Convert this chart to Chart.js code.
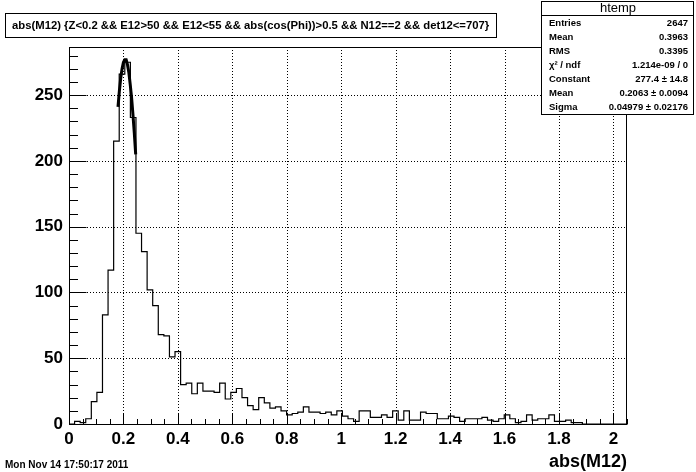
<!DOCTYPE html>
<html>
<head>
    <title>abs(M12)</title>
    <script src="https://cdn.jsdelivr.net/npm/chart.js"></script>
    <style>
        body {
            margin: 0;
            background: #fff;
        }
        #wrap {
            width: 696px;
            height: 472px;
        }
    </style>
</head>
<body>
<div id="wrap"><canvas id="histChart" width="696" height="472"></canvas></div>
<script>
    // histogram: 100 bins from 0 to 2.05
    const xMin = 0;
    const xMax = 2.05;
    const binWidth = 0.0205;
    const yMax = 286.6;
    const counts = [
        0, 2, 1, 4, 17, 24, 83, 117, 215, 266,
        275, 233, 145, 131, 102, 90, 68, 67, 51, 55,
        30, 31, 23, 31, 25, 25, 24, 31, 19, 24,
        27, 20, 14, 11, 20, 16, 12, 13, 10, 7,
        8, 9, 13, 9, 9, 8, 9, 7, 10, 6,
        4, 2, 10, 10, 5, 5, 7, 5, 10, 3,
        10, 3, 3, 9, 8, 8, 4, 4, 6, 5,
        2, 4, 4, 4, 5, 3, 2, 4, 7, 4,
        1, 2, 7, 3, 4, 4, 7, 2, 2, 3,
        1, 1, 0, 0, 0, 0, 0, 0, 0, 0
    ];

    // gaussian fit curve
    const fitX = [0.180, 0.185, 0.190, 0.195, 0.200, 0.205, 0.210, 0.215, 0.220, 0.225, 0.230, 0.235, 0.240, 0.245];
    const fitY = [241, 253, 263, 270, 275, 277, 277, 273, 267, 258, 248, 235, 221, 205];

    const xTicks = [0, 0.2, 0.4, 0.6, 0.8, 1, 1.2, 1.4, 1.6, 1.8, 2];
    const xTickLabels = ['0', '0.2', '0.4', '0.6', '0.8', '1', '1.2', '1.4', '1.6', '1.8', '2'];
    const yTicks = [0, 50, 100, 150, 200, 250];
    const yTickLabels = ['0', '50', '100', '150', '200', '250'];

    const titleText = 'abs(M12) {Z<0.2 && E12>50 && E12<55 && abs(cos(Phi))>0.5 && N12==2 && det12<=707}';
    const xTitle = 'abs(M12)';
    const dateText = 'Mon Nov 14 17:50:17 2011';
    const statName = 'htemp';
    const statLabels = ['Entries', 'Mean', 'RMS', 'χ² / ndf', 'Constant', 'Mean', 'Sigma'];
    const statValues = ['2647', '0.3963', '0.3395', '1.214e-09 / 0', '277.4 ± 14.8', '0.2063 ± 0.0094', '0.04979 ± 0.02176'];

    const FONT = "'Liberation Sans', Arial, Helvetica, sans-serif";

    const histPoints = counts.map((c, i) => ({ x: xMin + i * binWidth, y: c }));
    histPoints.push({ x: xMax, y: 0 });
    const fitPoints = fitX.map((x, i) => ({ x: x, y: fitY[i] }));

    // ROOT style frame, dotted grid, inward ticks and text boxes
    const rootFrame = {
        id: 'rootFrame',
        beforeDatasetsDraw(chart) {
            const ctx = chart.ctx;
            const a = chart.chartArea;
            const xs = chart.scales.x, ys = chart.scales.y;
            ctx.save();
            ctx.strokeStyle = '#000';
            ctx.lineWidth = 1;
            ctx.setLineDash([1, 2]);
            xTicks.forEach(v => {
                if (v === xMin) return;
                const px = Math.round(xs.getPixelForValue(v)) + 0.5;
                ctx.beginPath();
                ctx.moveTo(px, a.top);
                ctx.lineTo(px, a.bottom);
                ctx.stroke();
            });
            yTicks.forEach(v => {
                if (v === 0) return;
                const py = Math.round(ys.getPixelForValue(v)) + 0.5;
                ctx.beginPath();
                ctx.moveTo(a.left, py);
                ctx.lineTo(a.right, py);
                ctx.stroke();
            });
            ctx.restore();
        },
        afterDatasetsDraw(chart) {
            const ctx = chart.ctx;
            const a = chart.chartArea;
            const xs = chart.scales.x, ys = chart.scales.y;
            ctx.save();
            ctx.strokeStyle = '#000';
            ctx.lineWidth = 1;
            ctx.strokeRect(a.left + 0.5, a.top + 0.5, a.right - a.left - 1, a.bottom - a.top);
            ctx.beginPath();
            const left = a.left + 0.5;
            for (let v = 0; v <= yMax; v += 10) {
                const py = Math.round(ys.getPixelForValue(v)) + 0.5;
                const len = v % 50 === 0 ? 17 : 8.5;
                ctx.moveTo(left, py);
                ctx.lineTo(left + len, py);
            }
            const bottom = a.bottom + 0.5;
            for (let i = 0; i * 0.05 <= xMax + 1e-9; i++) {
                const px = Math.round(xs.getPixelForValue(i * 0.05)) + 0.5;
                const len = i % 4 === 0 ? 11 : 5.5;
                ctx.moveTo(px, bottom);
                ctx.lineTo(px, bottom - len);
            }
            ctx.stroke();
            ctx.restore();
        },
        afterDraw(chart) {
            const ctx = chart.ctx;
            const a = chart.chartArea;
            ctx.save();
            ctx.fillStyle = '#000';
            ctx.strokeStyle = '#000';
            ctx.lineWidth = 1;

            // title box
            ctx.fillStyle = '#fff';
            ctx.fillRect(5, 13, 492, 25);
            ctx.fillStyle = '#000';
            ctx.strokeRect(5.5, 13.5, 491, 24);
            ctx.font = 'bold 11.3px ' + FONT;
            ctx.textBaseline = 'middle';
            ctx.textAlign = 'left';
            ctx.fillText(titleText, 12, 26);

            // stats box
            ctx.fillStyle = '#fff';
            ctx.fillRect(541, 1, 153, 114);
            ctx.fillStyle = '#000';
            ctx.strokeRect(541.5, 1.5, 152, 113);
            ctx.beginPath();
            ctx.moveTo(541.5, 15.5);
            ctx.lineTo(693.5, 15.5);
            ctx.stroke();
            ctx.font = '13px ' + FONT;
            ctx.textAlign = 'center';
            ctx.fillText(statName, 618, 8.5);
            ctx.font = 'bold 9.5px ' + FONT;
            statLabels.forEach((lab, i) => {
                const y = 23.5 + i * 14;
                ctx.textAlign = 'left';
                ctx.fillText(lab, 549, y);
                ctx.textAlign = 'right';
                ctx.fillText(statValues[i], 688, y);
            });

            // axis title and date
            ctx.textBaseline = 'alphabetic';
            ctx.textAlign = 'right';
            ctx.font = 'bold 18px ' + FONT;
            ctx.fillText(xTitle, a.right, 467);
            ctx.textAlign = 'left';
            ctx.font = 'bold 10px ' + FONT;
            ctx.fillText(dateText, 5, 468);
            ctx.restore();
        }
    };

    const tickFont = { family: FONT, size: 17, weight: 'bold' };

    new Chart(document.getElementById('histChart'), {
        type: 'line',
        data: {
            datasets: [
                {
                    label: 'htemp',
                    data: histPoints,
                    stepped: 'before',
                    borderColor: '#000',
                    borderWidth: 1.2,
                    pointRadius: 0,
                    fill: false
                },
                {
                    label: 'fit',
                    data: fitPoints,
                    borderColor: '#000',
                    borderWidth: 3,
                    pointRadius: 0,
                    tension: 0,
                    fill: false
                }
            ]
        },
        options: {
            responsive: false,
            animation: false,
            devicePixelRatio: 1,
            layout: { padding: { left: 0, right: 69, top: 47, bottom: 0 } },
            plugins: {
                legend: { display: false },
                tooltip: { enabled: false }
            },
            scales: {
                x: {
                    type: 'linear',
                    min: xMin,
                    max: xMax,
                    grid: { display: false, drawTicks: false },
                    border: { display: false },
                    afterBuildTicks: s => { s.ticks = xTicks.map(v => ({ value: v })); },
                    afterFit: s => { s.height = 48; },
                    ticks: {
                        autoSkip: false,
                        maxRotation: 0,
                        padding: 5,
                        color: '#000',
                        font: tickFont,
                        callback: (v, i) => xTickLabels[i]
                    }
                },
                y: {
                    type: 'linear',
                    min: 0,
                    max: yMax,
                    grid: { display: false, drawTicks: false },
                    border: { display: false },
                    afterBuildTicks: s => { s.ticks = yTicks.map(v => ({ value: v })); },
                    afterFit: s => { s.width = 69; },
                    ticks: {
                        autoSkip: false,
                        padding: 6,
                        color: '#000',
                        font: tickFont,
                        callback: (v, i) => yTickLabels[i]
                    }
                }
            }
        },
        plugins: [rootFrame]
    });
</script>
</body>
</html>
